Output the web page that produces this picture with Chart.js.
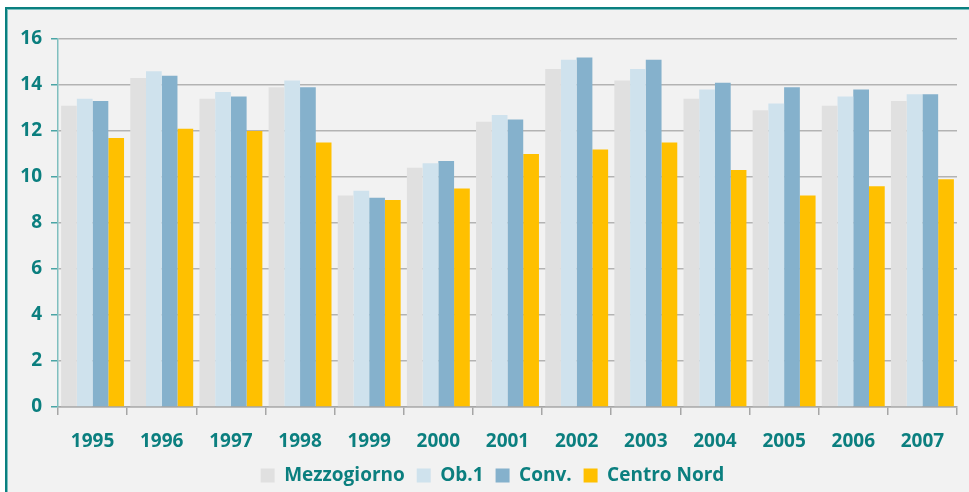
<!DOCTYPE html>
<html>
<head>
<meta charset="utf-8">
<script src="https://cdn.jsdelivr.net/npm/chart.js@4.4.1/dist/chart.umd.min.js"></script>
<style>
  html, body { margin: 0; padding: 0; background: #ffffff; }
  body { width: 969px; height: 492px; overflow: hidden; position: relative; }
  #frame {
    position: absolute; left: 5px; top: 7px; width: 1000px; height: 520px;
    background: #f2f2f2; border-left: 2px solid #0a8080; border-top: 2px solid #0a8080;
    box-shadow: inset 1px 1px 0 #7cc0c0;
  }
  #wrap { position: absolute; left: 0; top: 0; width: 969px; height: 492px; }
</style>
</head>
<body>
<div id="frame"></div>
<div id="wrap"><canvas id="graph"></canvas></div>
<script>
/****************************** data ******************************/
const years = ['1995', '1996', '1997', '1998', '1999', '2000', '2001', '2002', '2003', '2004', '2005', '2006', '2007'];
const mezzogiorno = [13.1, 14.3, 13.4, 13.9, 9.2, 10.4, 12.4, 14.7, 14.2, 13.4, 12.9, 13.1, 13.3];
const ob1         = [13.4, 14.6, 13.7, 14.2, 9.4, 10.6, 12.7, 15.1, 14.7, 13.8, 13.2, 13.5, 13.6];
const conv        = [13.3, 14.4, 13.5, 13.9, 9.1, 10.7, 12.5, 15.2, 15.1, 14.1, 13.9, 13.8, 13.6];
const centroNord  = [11.7, 12.1, 12.0, 11.5, 9.0, 9.5, 11.0, 11.2, 11.5, 10.3, 9.2, 9.6, 9.9];
const yTicks = [0, 2, 4, 6, 8, 10, 12, 14, 16];

/****************************** chart ******************************/
const teal = '#0b7f7f';
const font = { family: '"Open Sans", sans-serif', size: 19, weight: 'bold' };

// move the legend a little to the right and down, like in the original
const shiftLegend = {
    id: 'shiftLegend',
    afterLayout: (chart) => {
        chart.legend.left += 14;
        chart.legend.right += 14;
        chart.legend.top += 3;
        chart.legend.bottom += 3;
    }
};

let ctx = document.getElementById('graph');
let graph = new Chart(ctx, {
    type: 'bar',
    plugins: [shiftLegend],
    data: {
        labels: years,
        datasets: [
            { label: 'Mezzogiorno', data: mezzogiorno, backgroundColor: '#e0e0e0' },
            { label: 'Ob.1', data: ob1, backgroundColor: '#cfe2ed' },
            { label: 'Conv.', data: conv, backgroundColor: '#85b1cc' },
            { label: 'Centro Nord', data: centroNord, backgroundColor: '#ffc000' }
        ]
    },
    options: {
        responsive: true,
        maintainAspectRatio: false,
        animation: false,
        datasets: { bar: { categoryPercentage: 0.91, barPercentage: 1.0 } },
        layout: { padding: { top: 39, right: 12, left: 0, bottom: 0 } },
        plugins: {
            tooltip: { enabled: false },
            legend: {
                position: 'bottom',
                labels: {
                    color: teal,
                    font: font,
                    boxWidth: 14,
                    boxHeight: 14,
                    padding: 7,
                    generateLabels: (chart) => {
                        let items = Chart.defaults.plugins.legend.labels.generateLabels(chart);
                        items.forEach((it, i) => { if (i < items.length - 1) it.text = it.text + ' '; });
                        return items;
                    }
                }
            }
        },
        scales: {
            x: {
                grid: {
                    offset: true,
                    drawOnChartArea: false,
                    color: '#a6a6a6',
                    tickLength: 8,
                    lineWidth: 1.5
                },
                border: { color: '#a6a6a6', width: 1.5 },
                ticks: { color: teal, font: font, padding: 15, maxRotation: 0 },
                afterFit: (scale) => { scale.height = 49; }
            },
            y: {
                min: 0,
                max: 16,
                afterBuildTicks: (scale) => { scale.ticks = yTicks.map(v => ({ value: v })); },
                grid: {
                    color: '#b3b3b3',
                    lineWidth: 1.5,
                    tickColor: '#4aa5a5',
                    tickLength: 7
                },
                border: { color: '#80bfbf', width: 1.5 },
                ticks: { color: teal, font: font, padding: 9 },
                afterFit: (scale) => { scale.width = 58; }
            }
        }
    }
});
</script>
</body>
</html>
